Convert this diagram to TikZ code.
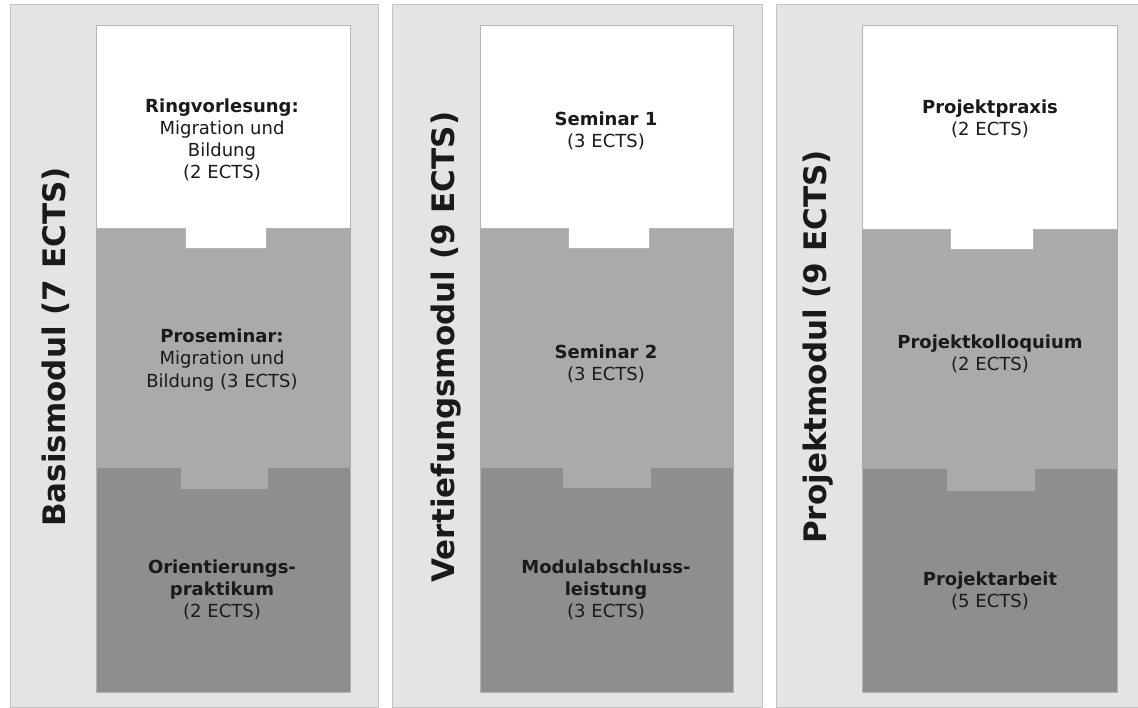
\documentclass[tikz,border=0pt]{standalone}
\usepackage{fontspec}
\setmainfont{DejaVu Sans}
\usetikzlibrary{positioning}
\definecolor{panelbg}{HTML}{E4E4E4}
\definecolor{panelrule}{HTML}{C4C4C4}
\definecolor{lightblk}{HTML}{AAAAAA}
\definecolor{darkblk}{HTML}{8E8E8E}
\definecolor{blkrule}{HTML}{B4B4B4}
\definecolor{ink}{HTML}{1A1A1A}
\tikzset{panel/.style={fill=panelbg,draw=panelrule,line width=1pt},
 topblk/.style={fill=white,draw=blkrule,line width=.8pt},
 midblk/.style={fill=lightblk,draw=lightblk,line width=.8pt},
 lowblk/.style={fill=darkblk,draw=blkrule,line width=.8pt},
 modtitle/.style={rotate=90,text=ink,font=\bfseries\fontsize{31}{31}\selectfont,inner sep=0pt},
 course/.style={align=center,text=ink,font=\fontsize{18}{22.2}\selectfont,inner sep=0pt}}

\begin{document}
\begin{tikzpicture}[x=1pt,y=-1pt]
\useasboundingbox (0,0) rectangle (1138,708);
\clip (0,0) rectangle (1138,708);
% three module panels
\draw[panel] (10,5) rectangle (378,707);
\draw[panel] (392,5) rectangle (762,707);
\draw[panel] (776,5) rectangle (1146,707);

% Basismodul
\draw[lowblk] (96,467) rectangle (350,692);
\draw[midblk] (96,228) -- (350,228) -- (350,467) -- (267,467) -- (267,488) -- (181,488) -- (181,467) -- (96,467) -- cycle;
\draw[topblk] (96,25) -- (350,25) -- (350,228) -- (266,228) -- (266,248) -- (185,248) -- (185,228) -- (96,228) -- cycle;
% Vertiefungsmodul
\draw[lowblk] (480,467) rectangle (733,692);
\draw[midblk] (480,228) -- (733,228) -- (733,467) -- (650,467) -- (650,487) -- (563,487) -- (563,467) -- (480,467) -- cycle;
\draw[topblk] (480,25) -- (733,25) -- (733,228) -- (649,228) -- (649,248) -- (568,248) -- (568,228) -- (480,228) -- cycle;
% Projektmodul
\draw[lowblk] (862,468) rectangle (1117,692);
\draw[midblk] (862,229) -- (1117,229) -- (1117,468) -- (1034,468) -- (1034,490) -- (947,490) -- (947,468) -- (862,468) -- cycle;
\draw[topblk] (862,25) -- (1117,25) -- (1117,229) -- (1033,229) -- (1033,249) -- (950,249) -- (950,229) -- (862,229) -- cycle;

\node[modtitle] (basis) at (56,347) {Basismodul (7 ECTS)};
\node[modtitle] (vertiefung) at (446,347) {Vertiefungsmodul (9 ECTS)};
\node[modtitle] (projekt) at (818,347) {Projektmodul (9 ECTS)};

\node[course] (ringvl) at (222,140) {\textbf{Ringvorlesung:}\\Migration und\\Bildung\\(2 ECTS)};
\node[course] (prosem) at (222,360) {\textbf{Proseminar:}\\Migration und\\Bildung (3 ECTS)};
\node[course] (orient) at (222,590) {\textbf{Orientierungs-}\\\textbf{praktikum}\\(2 ECTS)};

\node[course] (sem1) at (606,131) {\textbf{Seminar 1}\\(3 ECTS)};
\node[course] (sem2) at (606,364) {\textbf{Seminar 2}\\(3 ECTS)};
\node[course] (mal) at (606,590) {\textbf{Modulabschluss-}\\\textbf{leistung}\\(3 ECTS)};

\node[course] (praxis) at (990,119) {\textbf{Projektpraxis}\\(2 ECTS)};
\node[course] (kolloq) at (990,354) {\textbf{Projektkolloquium}\\(2 ECTS)};
\node[course] (arbeit) at (990,591) {\textbf{Projektarbeit}\\(5 ECTS)};
\end{tikzpicture}
\end{document}
